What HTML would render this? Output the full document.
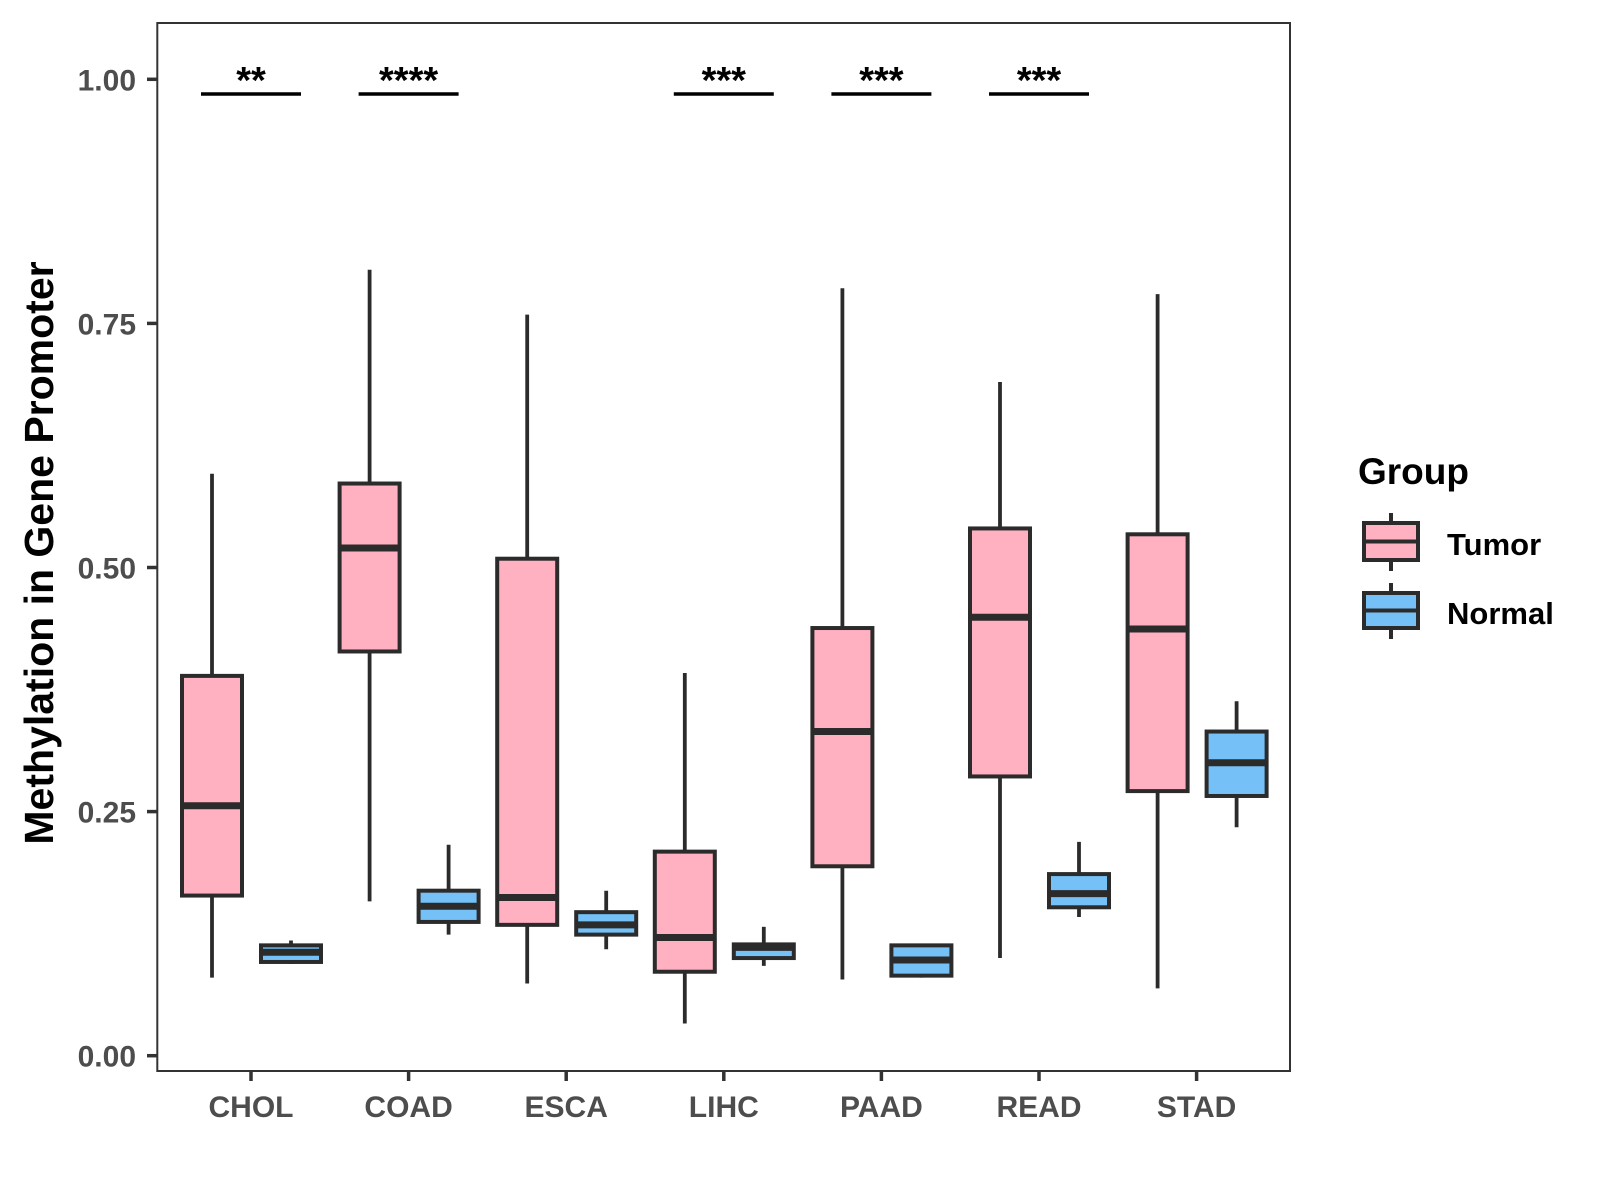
<!DOCTYPE html>
<html><head><meta charset="utf-8"><style>
body{margin:0;background:#fff;width:1600px;height:1200px;overflow:hidden}
svg{display:block;font-family:"Liberation Sans",Arial,sans-serif;font-weight:bold}
</style></head><body>
<svg id="chart" width="1600" height="1200">
<rect x="157.3" y="23" width="1132.7" height="1048" fill="#fff" stroke="#333" stroke-width="2"/>
<g id="yaxis"></g>
<g id="xaxis"></g>
<g id="boxes"></g>
<g id="sig"></g>
<text x="53" y="553" transform="rotate(-90 53 553)" text-anchor="middle" font-size="41" fill="#000">Methylation in Gene Promoter</text>
<g>
<text x="1358" y="484" font-size="37" fill="#000">Group</text>
<g>
<line x1="1391" y1="513" x2="1391" y2="571" stroke="#2b2b2b" stroke-width="4"/>
<rect x="1364" y="523" width="54" height="37" fill="#FFB0C1" stroke="#2b2b2b" stroke-width="4"/>
<line x1="1364" y1="541.5" x2="1418" y2="541.5" stroke="#2b2b2b" stroke-width="4"/>
<text x="1447" y="555" font-size="31" fill="#000">Tumor</text></g>
<g>
<line x1="1391" y1="583" x2="1391" y2="639" stroke="#2b2b2b" stroke-width="4"/>
<rect x="1364" y="593" width="54" height="35" fill="#75C1F7" stroke="#2b2b2b" stroke-width="4"/>
<line x1="1364" y1="610.5" x2="1418" y2="610.5" stroke="#2b2b2b" stroke-width="4"/>
<text x="1447" y="624" font-size="31" fill="#000">Normal</text></g>
</g>
</svg>
<script>
const categories=["CHOL","COAD","ESCA","LIHC","PAAD","READ","STAD"];
// [lowWhisker, Q1, median, Q3, highWhisker]
const tumorStats=[[0.080,0.164,0.256,0.389,0.596],[0.158,0.414,0.520,0.586,0.805],[0.074,0.134,0.162,0.509,0.759],[0.033,0.086,0.121,0.209,0.392],[0.078,0.194,0.332,0.438,0.786],[0.100,0.286,0.449,0.540,0.690],[0.069,0.271,0.437,0.534,0.780]];
const normalStats=[[0.094,0.096,0.106,0.113,0.118],[0.124,0.137,0.153,0.169,0.216],[0.109,0.124,0.134,0.147,0.169],[0.092,0.100,0.111,0.114,0.132],[0.080,0.082,0.098,0.113,0.113],[0.142,0.152,0.166,0.186,0.219],[0.234,0.266,0.300,0.332,0.363]];
const sigLabels=["**","****","","***","***","***",""];
const yTicks=[0,0.25,0.5,0.75,1.0];
const yTickLabels=["0.00","0.25","0.50","0.75","1.00"];
const sigY=0.985;

const NS="http://www.w3.org/2000/svg";
function yS(v){return 1055.7-976.4*v;}
function xS(i){return 251+157.6*i;}
function mk(t,a,p){const e=document.createElementNS(NS,t);for(const k in a)e.setAttribute(k,a[k]);p.appendChild(e);return e;}
const ya=document.getElementById('yaxis'),xa=document.getElementById('xaxis'),bx=document.getElementById('boxes'),sg=document.getElementById('sig');
yTicks.forEach((v,i)=>{
 const l=mk('line',{x1:147,x2:157,y1:yS(v),y2:yS(v),stroke:'#333','stroke-width':3.5},ya);
 
 
 const t=mk('text',{x:136,y:yS(v)+11,'text-anchor':'end','font-size':30,fill:'#4d4d4d'},ya);
 t.textContent=yTickLabels[i];
 
 
});
categories.forEach((c,i)=>{
 const l=mk('line',{x1:xS(i),x2:xS(i),y1:1071,y2:1081,stroke:'#333','stroke-width':3.5},xa);
 
 
 const t=mk('text',{x:xS(i),y:1117,'text-anchor':'middle','font-size':30,fill:'#4d4d4d'},xa);
 t.textContent=c;
 
 
});
function drawBox(cx,s,fill,name){
 const g=mk('g',{},bx);
 
 
 const w=60;
 mk('line',{x1:cx,x2:cx,y1:yS(s[4]),y2:yS(s[0]),stroke:'#2b2b2b','stroke-width':3.8},g);
 mk('rect',{x:cx-w/2,y:yS(s[3]),width:w,height:yS(s[1])-yS(s[3]),fill:fill,stroke:'#2b2b2b','stroke-width':4},g);
 mk('line',{x1:cx-w/2,x2:cx+w/2,y1:yS(s[2]),y2:yS(s[2]),stroke:'#2b2b2b','stroke-width':7},g);
}
categories.forEach((c,i)=>{
 drawBox(xS(i)-39,tumorStats[i],'#FFB0C1','box-tumor-'+c.toLowerCase());
 drawBox(xS(i)+40,normalStats[i],'#75C1F7','box-normal-'+c.toLowerCase());
 if(sigLabels[i]){
  const l=mk('line',{x1:xS(i)-50,x2:xS(i)+50,y1:yS(sigY),y2:yS(sigY),stroke:'#000','stroke-width':3.5},sg);
  
  
  const t=mk('text',{x:xS(i),y:yS(sigY)-1,'text-anchor':'middle','font-size':38,fill:'#000'},sg);
  t.textContent=sigLabels[i];
  
  
 }
});
</script>
</body></html>
